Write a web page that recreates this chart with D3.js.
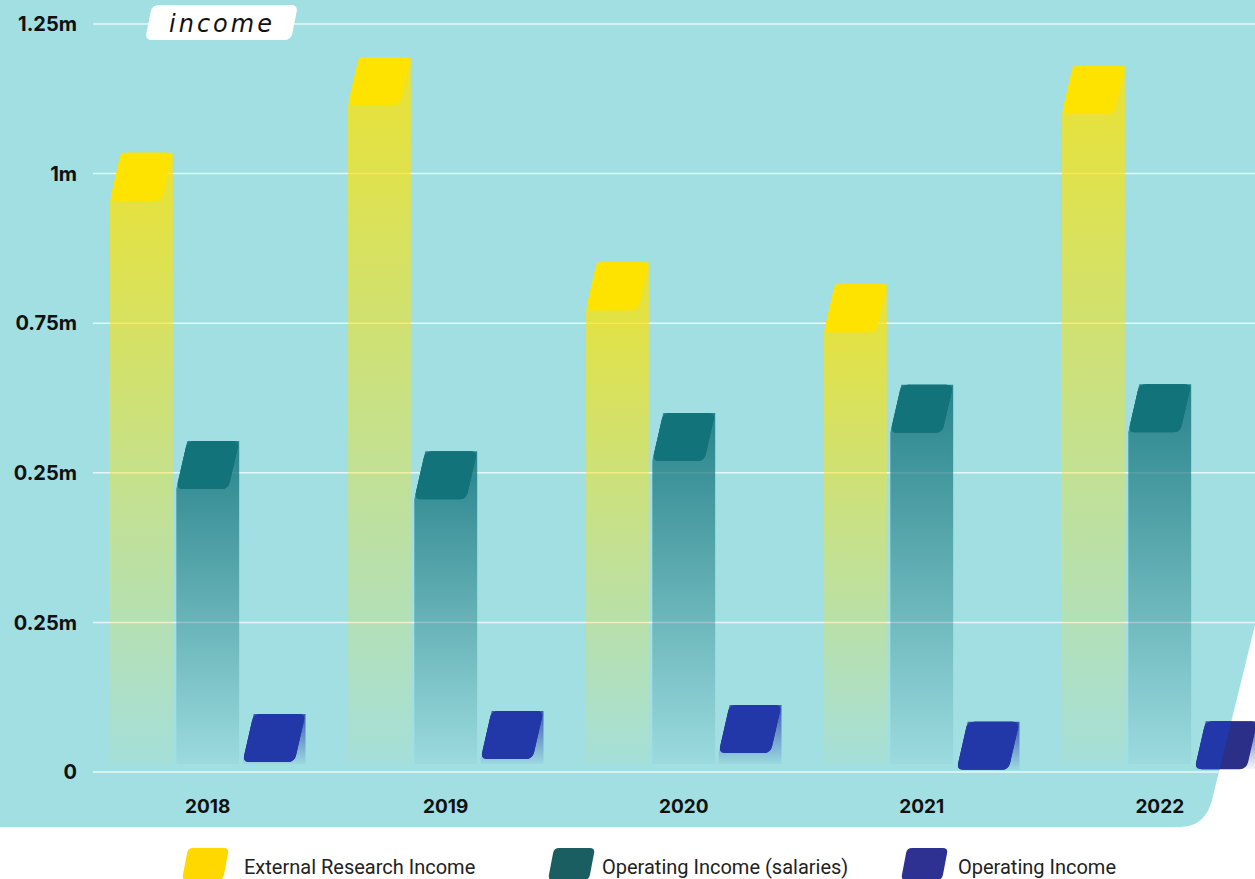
<!DOCTYPE html>
<html>
<head>
<meta charset="utf-8">
<script src="https://cdn.jsdelivr.net/npm/d3@7/dist/d3.min.js"></script>
<style>
  html, body { margin: 0; padding: 0; background: #ffffff; }
  svg { display: block; }
</style>
</head>
<body>
<svg id="chart" width="1255" height="879"></svg>
<script>
// ---- data ----
const years = ["2018", "2019", "2020", "2021", "2022"];
const seriesNames = ["External Research Income", "Operating Income (salaries)", "Operating Income"];
const externalResearch = [1.035, 1.195, 0.852, 0.815, 1.18];   // millions
const operatingSalaries = [0.553, 0.536, 0.600, 0.647, 0.648];
const operatingIncome = [0.097, 0.102, 0.112, 0.084, 0.085];
const tickValues = [0, 0.25, 0.5, 0.75, 1, 1.25];
const tickLabels = ["0", "0.25m", "0.25m", "0.75m", "1m", "1.25m"];
const titleText = "income";

// ---- styles ----
const capColors = ["#ffe300", "#13737b", "#2238a8"];
const capOutside = ["#ffe300", "#13737b", "#2c2f88"];
const bodyColors = ["#ffe300", "#13737b", "#2238a8"];
const bodyTopOpacity = [0.78, 0.85, 0.8];
const legendColors = ["#ffd800", "#1b5e62", "#2e3191"];
const panelColor = "#a1dfe2";

const svg = d3.select("#chart");
const W = 1255, H = 879;

const y = d3.scaleLinear().domain([0, 1.25]).range([772, 24]);
const x0 = d3.scaleBand().domain(years).range([89.5, 89.5 + 238 * years.length]);
const x1 = d3.scaleBand().domain(d3.range(3)).range([20.5, 216]).paddingInner(0.0526);

const panelPath = "M0,0 H1255 V625 L1212,800 Q1205,827 1180,827 H0 Z";

const defs = svg.append("defs");
defs.append("clipPath").attr("id", "panelClip").append("path").attr("d", panelPath);
bodyColors.forEach((c, i) => {
  const g = defs.append("linearGradient").attr("id", "grad" + i)
    .attr("x1", 0).attr("y1", 0).attr("x2", 0).attr("y2", 1);
  g.append("stop").attr("offset", 0).attr("stop-color", c).attr("stop-opacity", bodyTopOpacity[i]);
  g.append("stop").attr("offset", 1).attr("stop-color", c).attr("stop-opacity", 0.04);
});

function roundedPoly(pts, r) {
  const n = pts.length;
  let d = "";
  for (let i = 0; i < n; i++) {
    const p0 = pts[(i - 1 + n) % n], p1 = pts[i], p2 = pts[(i + 1) % n];
    const l0 = Math.hypot(p0[0] - p1[0], p0[1] - p1[1]);
    const l2 = Math.hypot(p2[0] - p1[0], p2[1] - p1[1]);
    const a = [p1[0] + (p0[0] - p1[0]) * r / l0, p1[1] + (p0[1] - p1[1]) * r / l0];
    const b = [p1[0] + (p2[0] - p1[0]) * r / l2, p1[1] + (p2[1] - p1[1]) * r / l2];
    d += (i === 0 ? "M" : "L") + a[0] + "," + a[1] + "Q" + p1[0] + "," + p1[1] + " " + b[0] + "," + b[1];
  }
  return d + "Z";
}

// panel
svg.append("path").attr("d", panelPath).attr("fill", panelColor);

// gridlines
const grid = svg.append("g").attr("clip-path", "url(#panelClip)");
grid.selectAll("line").data(tickValues).join("line")
  .attr("x1", 93).attr("x2", W)
  .attr("y1", d => y(d)).attr("y2", d => y(d))
  .attr("stroke", "#ffffff").attr("stroke-opacity", 0.75).attr("stroke-width", 1.5);

// y tick labels
svg.append("g").selectAll("text").data(tickValues).join("text")
  .attr("x", 77).attr("y", d => y(d)).attr("dy", "0.36em")
  .attr("text-anchor", "end")
  .attr("font-family", "Inter, 'DejaVu Sans', sans-serif")
  .attr("font-weight", 700).attr("font-size", 20).attr("fill", "#111")
  .text((d, i) => tickLabels[i]);

// bars
const series = [externalResearch, operatingSalaries, operatingIncome];
const barData = [];
years.forEach((yr, gi) => {
  series.forEach((s, si) => barData.push({ year: yr, si, v: s[gi] }));
});
const capH = 48, skew = 11, bodyBottom = y(0) - 8;

const bars = svg.append("g");
barData.forEach(d => {
  const bx = x0(d.year) + x1(d.si);
  const bw = x1.bandwidth();
  const top = y(d.v);
  const g = bars.append("g");
  const bot = Math.max(bodyBottom, top + capH);
  const bodyPts = [[bx, top + capH], [bx + skew, top], [bx + bw, top], [bx + bw, bot], [bx, bot]];
  g.append("path")
    .attr("d", "M" + bodyPts.map(p => p.join(",")).join("L") + "Z")
    .attr("fill", "url(#grad" + d.si + ")");
  const capPts = [[bx + skew, top], [bx + bw, top], [bx + bw - skew, top + capH], [bx, top + capH]];
  const cd = roundedPoly(capPts, 7);
  g.append("path").attr("d", cd).attr("fill", capOutside[d.si]);
  g.append("path").attr("d", cd).attr("fill", capColors[d.si]).attr("clip-path", "url(#panelClip)");
});

// year labels
svg.append("g").selectAll("text").data(years).join("text")
  .attr("x", d => x0(d) + x1(1) + x1.bandwidth() / 2)
  .attr("y", 806).attr("dy", "0.36em")
  .attr("text-anchor", "middle")
  .attr("font-family", "Inter, 'DejaVu Sans', sans-serif")
  .attr("font-weight", 700).attr("font-size", 19).attr("fill", "#111")
  .text(d => d);

// title tag
const tag = svg.append("g");
tag.append("path")
  .attr("d", roundedPoly([[152, 5], [298, 5], [291, 40], [145, 40]], 7))
  .attr("fill", "#ffffff");
tag.append("text")
  .attr("x", 222).attr("y", 23).attr("dy", "0.36em")
  .attr("text-anchor", "middle")
  .attr("font-family", "'DejaVu Sans', sans-serif")
  .attr("font-style", "italic").attr("font-weight", 400)
  .attr("font-size", 24).attr("letter-spacing", 3)
  .attr("fill", "#111")
  .text(titleText);

// legend
const legendX = [182, 548, 901];
const legendTextX = [244, 602, 958];
const legend = svg.append("g");
seriesNames.forEach((name, i) => {
  const lx = legendX[i];
  legend.append("path")
    .attr("d", roundedPoly([[lx + 6, 848], [lx + 47, 848], [lx + 41, 880], [lx, 880]], 5))
    .attr("fill", legendColors[i]);
  legend.append("text")
    .attr("x", legendTextX[i]).attr("y", 867).attr("dy", "0.36em")
    .attr("font-family", "Roboto, 'DejaVu Sans', sans-serif")
    .attr("font-size", 20).attr("fill", "#222")
    .text(name);
});
</script>
</body>
</html>
